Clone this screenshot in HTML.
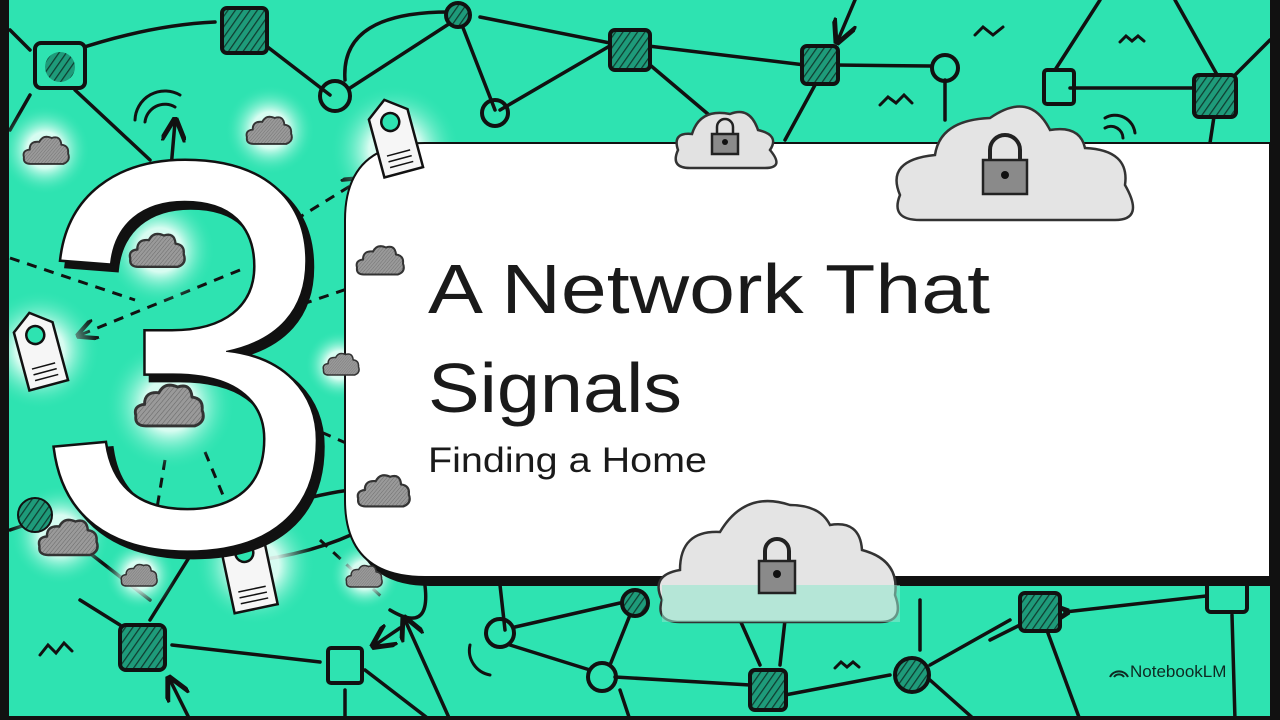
<!DOCTYPE html>
<html><head><meta charset="utf-8"><style>
html,body{margin:0;padding:0;width:1280px;height:720px;overflow:hidden;background:#2ee3b1}
svg{display:block}
.t{font-family:"Liberation Sans",sans-serif}
</style></head><body>
<svg width="1280" height="720" viewBox="0 0 1280 720" xmlns="http://www.w3.org/2000/svg">
<defs>
<pattern id="h" width="6" height="6" patternUnits="userSpaceOnUse" patternTransform="rotate(35)"><rect width="6" height="6" fill="#1e9b7a"/><line x1="0" y1="0" x2="0" y2="6" stroke="#0f3d30" stroke-width="2.5"/></pattern>
<pattern id="g" width="5" height="5" patternUnits="userSpaceOnUse" patternTransform="rotate(40)"><rect width="5" height="5" fill="#9a9a9a"/><line x1="0" y1="0" x2="0" y2="5" stroke="#666" stroke-width="1.5"/></pattern>
<symbol id="cl" viewBox="0 0 100 70"><path d="M18,64 Q2,64 4,50 Q0,36 16,34 Q16,16 36,18 Q44,2 62,10 Q80,4 82,24 Q98,26 96,42 Q102,58 86,64 Z" fill="url(#g)" stroke="#333" stroke-width="4"/></symbol>
<radialGradient id="glow"><stop offset="0.4" stop-color="#eafff8" stop-opacity="0.9"/><stop offset="1" stop-color="#2ee3b1" stop-opacity="0"/></radialGradient>
<marker id="ar" viewBox="0 0 10 10" refX="8" refY="5" markerWidth="7" markerHeight="7" orient="auto"><path d="M0,0 L10,5 L0,10" fill="none" stroke="#111" stroke-width="2"/></marker>
</defs>
<rect width="1280" height="720" fill="#2ee3b1"/>
<g fill="none" stroke="#111" stroke-width="3.5" stroke-linecap="round">
<path d="M75,50 Q150,25 215,22"/><path d="M265,45 L330,95"/><path d="M345,80 Q340,10 455,12"/><path d="M350,88 L455,20"/>
<path d="M460,20 L495,110"/><path d="M500,110 L620,40"/><path d="M480,17 L620,45"/>
<path d="M640,45 L805,65"/><path d="M650,65 L715,120"/><path d="M815,85 L785,140"/><path d="M835,65 L930,66"/>
<path d="M945,80 L945,120"/><path d="M1055,70 L1100,0"/><path d="M1070,88 L1200,88"/><path d="M1220,80 L1175,0"/><path d="M1230,80 L1270,40"/><path d="M1215,110 L1210,143"/>
<path d="M75,90 L150,160"/><path d="M30,95 L10,130"/><path d="M10,30 L30,50"/><path d="M855,0 L838,40" marker-end="url(#ar)"/>
<path d="M170,180 L175,122" marker-end="url(#ar)"/>
<path d="M80,600 L120,625"/><path d="M150,620 L200,540"/><path d="M172,645 L320,662"/><path d="M365,670 L430,720"/><path d="M450,720 L405,620" marker-end="url(#ar)"/>
<path d="M390,610 Q440,640 420,560"/><path d="M400,628 L375,645" marker-end="url(#ar)"/>
<path d="M345,720 L345,690"/><path d="M190,720 L170,680" marker-end="url(#ar)"/>
<path d="M505,630 L500,585"/><path d="M515,627 L620,603"/><path d="M510,645 L590,670"/><path d="M630,615 L610,665"/><path d="M620,690 L630,720"/>
<path d="M615,677 L750,685"/><path d="M740,620 L760,665"/><path d="M785,620 L780,665"/><path d="M785,695 L890,675"/><path d="M920,600 L920,650"/><path d="M930,665 L1010,620"/><path d="M930,680 L975,720"/>
<path d="M1065,612 L1215,595" marker-start="url(#ar)"/><path d="M1232,615 L1235,720"/><path d="M1045,625 L1080,720"/><path d="M1020,625 L990,640"/>
<path d="M40,520 L10,530"/><path d="M60,530 L150,600"/><path d="M300,500 Q420,470 380,520 Q330,550 260,560"/>
</g>
<g fill="none" stroke="#111" stroke-width="3" stroke-dasharray="10 8">
<path d="M10,258 L135,300"/><path d="M240,270 L80,335" marker-end="url(#ar)"/><path d="M295,220 L360,180" marker-end="url(#ar)"/>
<path d="M285,310 L350,288"/><path d="M305,425 L380,458" marker-end="url(#ar)"/><path d="M165,460 L155,520"/><path d="M205,452 L225,500"/><path d="M320,540 L385,600"/>
</g>
<g fill="url(#glow)"><circle cx="45" cy="150" r="45"/><circle cx="270" cy="130" r="45"/><circle cx="160" cy="250" r="55"/><circle cx="170" cy="405" r="65"/><circle cx="395" cy="150" r="65"/><circle cx="40" cy="350" r="60"/><circle cx="60" cy="535" r="50"/><circle cx="140" cy="575" r="35"/><circle cx="255" cy="565" r="60"/><circle cx="365" cy="575" r="35"/><circle cx="340" cy="365" r="35"/></g>
<g stroke="#111" stroke-width="4">
<rect x="35" y="43" width="50" height="45" rx="6" fill="#2ee3b1"/><circle cx="60" cy="67" r="15" fill="url(#h)" stroke="none"/>
<rect x="222" y="8" width="45" height="45" rx="5" fill="url(#h)"/>
<circle cx="458" cy="15" r="12" fill="url(#h)"/>
<circle cx="335" cy="96" r="15" fill="none"/><circle cx="495" cy="113" r="13" fill="none"/>
<rect x="610" y="30" width="40" height="40" rx="5" fill="url(#h)"/>
<rect x="802" y="46" width="36" height="38" rx="5" fill="url(#h)"/>
<circle cx="945" cy="68" r="13" fill="none"/>
<rect x="1044" y="70" width="30" height="34" rx="3" fill="none"/>
<rect x="1194" y="75" width="42" height="42" rx="5" fill="url(#h)"/>
<rect x="120" y="625" width="45" height="45" rx="6" fill="url(#h)"/>
<rect x="328" y="648" width="34" height="35" rx="3" fill="none"/>
<circle cx="500" cy="633" r="14" fill="none"/><circle cx="635" cy="603" r="13" fill="url(#h)"/><circle cx="602" cy="677" r="14" fill="none"/>
<rect x="750" y="670" width="36" height="40" rx="5" fill="url(#h)"/><circle cx="912" cy="675" r="17" fill="url(#h)"/>
<rect x="1020" y="593" width="40" height="38" rx="5" fill="url(#h)"/>
<rect x="1207" y="580" width="40" height="32" rx="4" fill="#2ee3b1"/>
<circle cx="35" cy="515" r="17" fill="url(#h)" stroke-width="2"/>
</g>
<g fill="none" stroke="#111" stroke-width="3" stroke-linecap="round">
<path d="M880,105 l8,-8 l8,6 l8,-8 l8,8"/><path d="M975,35 l8,-8 l10,8 l10,-8"/><path d="M1120,42 l6,-6 l6,5 l6,-5 l6,5"/>
<path d="M40,655 l8,-10 l8,8 l8,-10 l8,8"/><path d="M835,668 l6,-6 l6,5 l6,-5 l6,5"/><path d="M470,645 a25,25 0 0 0 20,30"/>
<path d="M135,120 a30,30 0 0 1 45,-25"/><path d="M145,122 a20,20 0 0 1 30,-15"/>
<path d="M1105,118 a20,20 0 0 1 30,15"/><path d="M1105,128 a12,12 0 0 1 18,10"/>
<path d="M880,178 a20,20 0 0 0 8,30"/><path d="M872,172 a28,28 0 0 0 10,42"/>
<path d="M655,545 a18,18 0 0 0 0,20"/><path d="M645,540 a26,26 0 0 0 0,30"/><path d="M888,525 a18,18 0 0 1 5,20"/><path d="M898,518 a26,26 0 0 1 8,32"/>
</g>
<path d="M430,151 H1278 V586 H430 Q353,586 353,510 V228 Q353,151 430,151 Z" fill="#111"/>
<path d="M425,143 H1270 V577 H425 Q345,577 345,500 V220 Q345,143 425,143 Z" fill="#fff" stroke="#111" stroke-width="2"/>
<rect x="1270" y="0" width="10" height="720" fill="#111"/>
<rect x="0" y="0" width="9" height="720" fill="#111"/>
<rect x="0" y="716" width="1280" height="4" fill="#111"/>
<g stroke="#333" stroke-width="2.5">
<path d="M690,168 Q670,168 678,150 Q672,132 692,134 Q700,108 730,114 Q750,106 758,130 Q780,135 770,150 Q785,168 765,168 Z" fill="#e2e2e2"/>
<path d="M920,220 Q890,220 900,195 Q885,160 935,155 Q940,120 990,118 Q1030,90 1050,130 Q1080,125 1085,148 Q1130,150 1125,185 Q1145,220 1115,220 Z" fill="#e4e4e4"/>
<path d="M680,622 Q655,622 662,600 Q650,575 680,570 Q680,530 720,532 Q745,490 790,505 Q820,505 830,525 Q860,520 862,550 Q900,560 895,595 Q905,622 880,622 Z" fill="#e4e4e4"/>
</g>
<path d="M662,585 H900 V622 H662Z" fill="#8ee8cc" opacity="0.55"/>
<g fill="#8a8a8a" stroke="#222" stroke-width="2.5">
<path d="M717,135 v-8 a8,8 0 0 1 16,0 v8" fill="none"/><rect x="712" y="134" width="26" height="20"/>
<path d="M990,162 v-12 a15,15 0 0 1 30,0 v12" fill="none" stroke-width="4"/><rect x="983" y="160" width="44" height="34"/>
<path d="M765,563 v-12 a12,12 0 0 1 24,0 v12" fill="none" stroke-width="4"/><rect x="759" y="561" width="36" height="32"/>
</g>
<circle cx="1005" cy="175" r="4" fill="#111"/><circle cx="725" cy="142" r="3" fill="#111"/><circle cx="777" cy="574" r="4" fill="#111"/>
<use href="#cl" x="22" y="132" width="48" height="36"/>
<use href="#cl" x="245" y="112" width="48" height="36"/>
<use href="#cl" x="128" y="228" width="58" height="44"/>
<use href="#cl" x="133" y="378" width="72" height="54"/>
<use href="#cl" x="355" y="240" width="50" height="40"/>
<use href="#cl" x="322" y="348" width="38" height="32"/>
<use href="#cl" x="356" y="468" width="55" height="45"/>
<use href="#cl" x="37" y="512" width="62" height="50"/>
<use href="#cl" x="120" y="560" width="38" height="30"/>
<use href="#cl" x="345" y="560" width="38" height="32"/>
<g stroke="#111" stroke-width="2.5" fill="#f6f6f6">
<g transform="translate(365,105) rotate(-15)"><path d="M0,15 L20,0 L40,15 V75 H0Z"/><circle cx="20" cy="23" r="9" fill="#2ee3b1"/><path d="M8,55 H32 M8,61 H32 M8,67 H32" stroke-width="1.5"/></g>
<g transform="translate(10,318) rotate(-15)"><path d="M0,15 L20,0 L40,15 V75 H0Z"/><circle cx="20" cy="23" r="9" fill="#2ee3b1"/><path d="M8,55 H32 M8,61 H32 M8,67 H32" stroke-width="1.5"/></g>
<g transform="translate(218,535) rotate(-12)"><path d="M0,15 L22,0 L44,15 V80 H0Z"/><circle cx="22" cy="23" r="9" fill="#2ee3b1"/><path d="M8,60 H36 M8,66 H36 M8,72 H36" stroke-width="1.5"/></g>
</g>
<text class="t" x="40" y="551" font-size="550" fill="#111" stroke="#111" stroke-width="6">3</text>
<text class="t" x="34" y="545" font-size="550" fill="#fff" stroke="#111" stroke-width="5" paint-order="stroke">3</text>
<g class="t" fill="#1a1a1a">
<text x="428" y="313" font-size="70" textLength="562" lengthAdjust="spacingAndGlyphs">A Network That</text>
<text x="428" y="412" font-size="70" textLength="254" lengthAdjust="spacingAndGlyphs">Signals</text>
<text x="428" y="472" font-size="35" textLength="279" lengthAdjust="spacingAndGlyphs">Finding a Home</text>
<text x="1130" y="677" font-size="17" fill="#0e2a22">NotebookLM</text>
</g>
<path d="M1110,677 a10,10 0 0 1 18,0 M1114,677 a6,6 0 0 1 10,0" fill="none" stroke="#0e2a22" stroke-width="2"/>
</svg>
</body></html>
